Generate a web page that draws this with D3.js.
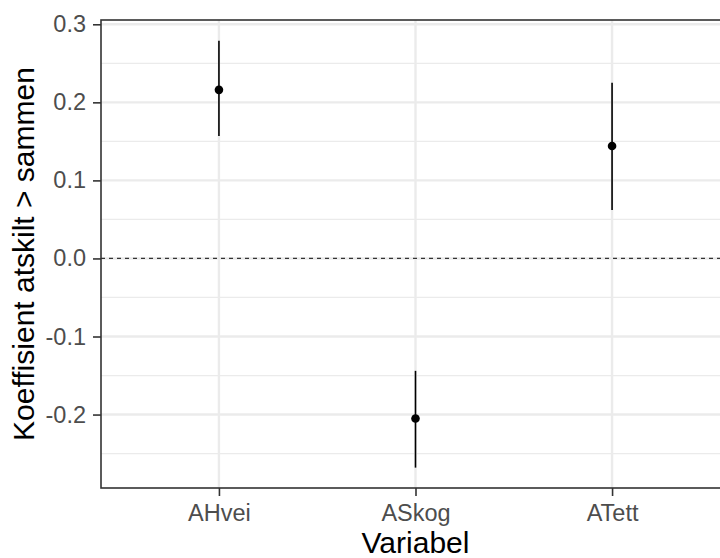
<!DOCTYPE html>
<html>
<head>
<meta charset="utf-8">
<script src="https://cdn.jsdelivr.net/npm/d3@7"></script>
<style>
  body { margin: 0; background: #fff; }
  svg { display: block; font-family: "Liberation Sans", Arial, sans-serif; }
</style>
</head>
<body>
<div id="chart"></div>
<script>
  var categories = ['AHvei', 'ASkog', 'ATett'];
  var estimates = [0.216, -0.205, 0.144];
  var lower = [0.157, -0.268, 0.062];
  var upper = [0.279, -0.144, 0.225];
  var yTicks = [-0.2, -0.1, 0.0, 0.1, 0.2, 0.3];
  var yMinor = [-0.25, -0.15, -0.05, 0.05, 0.15, 0.25];

  var width = 720, height = 558;
  var panel = { left: 101, top: 20, right: 730, bottom: 488 };

  var svg = d3.select('#chart').append('svg')
    .attr('width', width)
    .attr('height', height);

  var x = d3.scalePoint()
    .domain(categories)
    .range([panel.left, panel.right])
    .padding(0.6);

  var y = d3.scaleLinear()
    .domain([-0.2941, 0.3055])
    .range([panel.bottom, panel.top]);

  // panel background
  svg.append('rect')
    .attr('x', panel.left).attr('y', panel.top)
    .attr('width', panel.right - panel.left)
    .attr('height', panel.bottom - panel.top)
    .attr('fill', '#fff');

  var grid = svg.append('g').attr('class', 'grid');

  grid.selectAll('line.minor')
    .data(yMinor)
    .enter().append('line')
    .attr('class', 'minor')
    .attr('x1', panel.left).attr('x2', panel.right)
    .attr('y1', function(d) { return y(d); })
    .attr('y2', function(d) { return y(d); })
    .attr('stroke', '#ebebeb')
    .attr('stroke-width', 1.3);

  grid.selectAll('line.major-y')
    .data(yTicks)
    .enter().append('line')
    .attr('class', 'major-y')
    .attr('x1', panel.left).attr('x2', panel.right)
    .attr('y1', function(d) { return y(d); })
    .attr('y2', function(d) { return y(d); })
    .attr('stroke', '#ebebeb')
    .attr('stroke-width', 2.4);

  grid.selectAll('line.major-x')
    .data(categories)
    .enter().append('line')
    .attr('class', 'major-x')
    .attr('y1', panel.top).attr('y2', panel.bottom)
    .attr('x1', function(d) { return x(d); })
    .attr('x2', function(d) { return x(d); })
    .attr('stroke', '#ebebeb')
    .attr('stroke-width', 2.4);

  // dashed zero line
  svg.append('line')
    .attr('x1', panel.left).attr('x2', panel.right)
    .attr('y1', y(0)).attr('y2', y(0))
    .attr('stroke', '#333')
    .attr('stroke-width', 1.2)
    .attr('stroke-dasharray', '4,4');

  // error bars + points
  var data = categories.map(function(c, i) {
    return { label: c, est: estimates[i], lo: lower[i], hi: upper[i] };
  });

  svg.append('g').selectAll('line')
    .data(data)
    .enter().append('line')
    .attr('x1', function(d) { return x(d.label); })
    .attr('x2', function(d) { return x(d.label); })
    .attr('y1', function(d) { return y(d.lo); })
    .attr('y2', function(d) { return y(d.hi); })
    .attr('stroke', '#000')
    .attr('stroke-width', 1.6);

  svg.append('g').selectAll('circle')
    .data(data)
    .enter().append('circle')
    .attr('cx', function(d) { return x(d.label); })
    .attr('cy', function(d) { return y(d.est); })
    .attr('r', 4.3)
    .attr('fill', '#000');

  // panel border
  svg.append('rect')
    .attr('x', panel.left).attr('y', panel.top)
    .attr('width', panel.right - panel.left)
    .attr('height', panel.bottom - panel.top)
    .attr('fill', 'none')
    .attr('stroke', '#333')
    .attr('stroke-width', 1.6);

  // axes
  var yAxis = svg.append('g')
    .attr('transform', 'translate(' + panel.left + ',0)')
    .call(d3.axisLeft(y).tickValues(yTicks).tickSize(8).tickPadding(7)
      .tickFormat(d3.format('.1f')));

  var xAxis = svg.append('g')
    .attr('transform', 'translate(0,' + panel.bottom + ')')
    .call(d3.axisBottom(x).tickSize(8).tickPadding(8));

  [yAxis, xAxis].forEach(function(ax) {
    ax.select('.domain').remove();
    ax.selectAll('.tick line').attr('stroke', '#333').attr('stroke-width', 1.6);
    ax.selectAll('.tick text')
      .attr('fill', '#4d4d4d')
      .style('font-size', '23.5px')
      .style('font-family', '"Liberation Sans", Arial, sans-serif');
  });
  yAxis.selectAll('.tick text').text(function(d) {
    return d3.format('.1f')(d).replace('−', '-');
  });

  // axis titles
  svg.append('text')
    .attr('x', (panel.left + panel.right) / 2)
    .attr('y', 553)
    .attr('text-anchor', 'middle')
    .attr('fill', '#000')
    .style('font-size', '30px')
    .text('Variabel');

  svg.append('text')
    .attr('transform', 'translate(34,' + (panel.top + panel.bottom) / 2 + ') rotate(-90)')
    .attr('text-anchor', 'middle')
    .attr('fill', '#000')
    .style('font-size', '30px')
    .text('Koeffisient atskilt > sammen');
</script>
</body>
</html>
